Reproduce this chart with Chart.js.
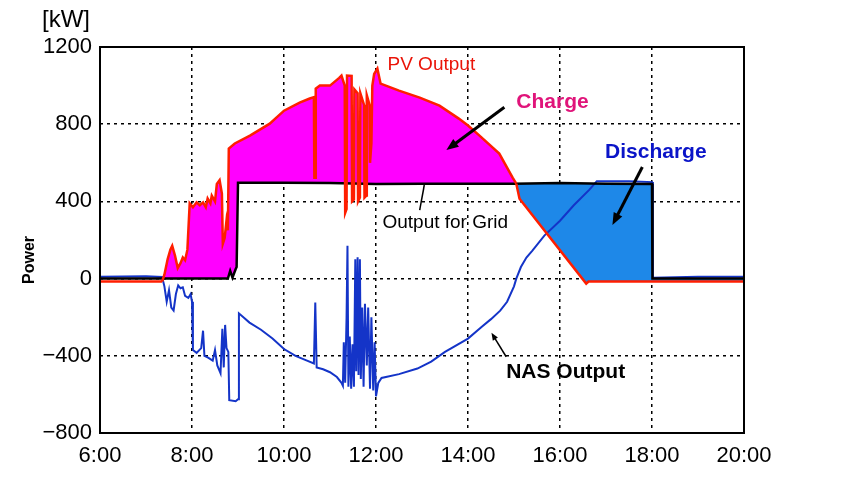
<!DOCTYPE html>
<html>
<head>
<meta charset="utf-8">
<script src="https://cdn.jsdelivr.net/npm/chart.js@4.4.1/dist/chart.umd.min.js"></script>
<style>
  html, body { margin: 0; padding: 0; background: #fff; }
</style>
</head>
<body>
<canvas id="chart" width="847" height="489"></canvas>
<script>
// Time of day in hours, power in kW
const pvTime = [6.0, 7.35, 7.4, 7.47, 7.53, 7.57, 7.63, 7.69, 7.75, 7.8, 7.85, 7.9, 7.95, 8.02, 8.1, 8.17, 8.24, 8.3, 8.34, 8.4, 8.43, 8.5, 8.54, 8.6, 8.65, 8.67, 8.71, 8.75, 8.78, 8.8, 8.93, 9.26, 9.69, 10.0, 10.34, 10.56, 10.65, 10.66, 10.68, 10.69, 10.78, 11.0, 11.2, 11.25, 11.32, 11.33, 11.36, 11.37, 11.47, 11.48, 11.52, 11.53, 11.6, 11.61, 11.65, 11.66, 11.74, 11.75, 11.79, 11.8, 11.86, 11.87, 11.9, 11.92, 11.96, 12.03, 12.1, 12.5, 12.95, 13.38, 13.8, 14.0, 14.25, 14.68, 14.97, 15.05, 15.12, 16.57, 16.62, 20.0];
const pvPower = [-15, -15, 20, 100, 150, 170, 120, 55, 80, 110, 95, 150, 390, 370, 395, 380, 395, 370, 415, 390, 430, 400, 490, 510, 440, 180, 210, 300, 250, 674, 700, 741, 803, 870, 912, 933, 940, 523, 523, 984, 1000, 1000, 1040, 1052, 1000, 340, 360, 1052, 1050, 400, 410, 980, 960, 400, 420, 960, 900, 420, 430, 950, 900, 600, 700, 1000, 1060, 1088, 1010, 974, 938, 896, 829, 793, 741, 648, 523, 492, 414, -26, -15, -15];

const gridTime = [6.0, 8.78, 8.83, 8.88, 8.95, 8.97, 9.0, 10.0, 11.0, 12.0, 13.0, 14.0, 15.0, 16.0, 17.0, 18.0, 18.01, 20.0];
const gridPower = [0, 0, 40, 5, 50, 60, 497, 497, 495, 490, 492, 492, 492, 495, 492, 490, 0, 0];

const nasTime = [6.0, 7.0, 7.35, 7.4, 7.45, 7.5, 7.55, 7.6, 7.65, 7.7, 7.75, 7.8, 7.85, 7.92, 7.97, 8.0, 8.02, 8.1, 8.2, 8.24, 8.27, 8.35, 8.45, 8.5, 8.55, 8.62, 8.66, 8.69, 8.72, 8.75, 8.79, 8.81, 8.95, 9.0, 9.02, 9.25, 9.5, 9.75, 10.0, 10.25, 10.5, 10.65, 10.68, 10.71, 10.85, 11.0, 11.15, 11.25, 11.28, 11.3, 11.33, 11.36, 11.38, 11.4, 11.43, 11.46, 11.49, 11.52, 11.55, 11.57, 11.6, 11.62, 11.65, 11.67, 11.7, 11.73, 11.76, 11.8, 11.83, 11.87, 11.9, 11.94, 11.97, 12.0, 12.05, 12.12, 12.5, 12.9, 13.2, 13.5, 14.0, 14.3, 14.5, 14.7, 14.85, 15.0, 15.05, 15.15, 15.27, 15.4, 15.66, 16.0, 16.3, 16.64, 16.8, 17.0, 17.5, 18.0, 18.02, 19.0, 20.0];
const nasPower = [10, 12, 8, -40, -120, -60, -150, -165, -80, -35, -50, -45, -90, -100, -80, -120, -370, -385, -360, -270, -400, -410, -425, -370, -450, -490, -260, -460, -240, -360, -380, -630, -635, -625, -180, -228, -265, -310, -365, -400, -425, -440, -124, -460, -470, -485, -510, -540, -555, -330, -540, -200, 170, -560, -300, -570, -340, -560, 100, -480, 110, -500, 100, -520, -150, -560, -130, -450, -150, -570, -200, -580, -330, -610, -540, -515, -495, -466, -430, -380, -311, -250, -210, -166, -120, -40, 0, 60, 109, 145, 223, 300, 380, 461, 505, 505, 505, 500, 5, 10, 10];

const xTicks = ['6:00', '8:00', '10:00', '12:00', '14:00', '16:00', '18:00', '20:00'];

const FONT = '"Liberation Sans", Arial, Helvetica, sans-serif';

const toPoints = (xs, ys) => xs.map((x, i) => ({ x: x, y: ys[i] }));

// text labels and arrows, placed in data units
const notes = [
  { text: 'PV Output', x: 12.25, y: 1081, font: '19px ' + FONT, color: '#ea1408' },
  { text: 'Charge', x: 15.05, y: 884, font: 'bold 21px ' + FONT, color: '#e0147a' },
  { text: 'Discharge', x: 16.98, y: 624, font: 'bold 21px ' + FONT, color: '#0a14c8' },
  { text: 'Output for Grid', x: 12.14, y: 262, font: '19px ' + FONT, color: '#000' },
  { text: 'NAS Output', x: 14.83, y: -514, font: 'bold 21px ' + FONT, color: '#000' }
];
const arrows = [
  { from: [14.79, 888], to: [13.53, 666], width: 3, head: 13 },
  { from: [17.79, 578], to: [17.14, 278], width: 3, head: 13 },
  { from: [12.95, 355], to: [13.05, 485], width: 1.5, head: 0 },
  { from: [14.83, -405], to: [14.51, -281], width: 1.5, head: 8 }
];

function drawArrow(ctx, x1, y1, x2, y2, w, head) {
  ctx.save();
  ctx.strokeStyle = '#000';
  ctx.fillStyle = '#000';
  ctx.lineWidth = w;
  const a = Math.atan2(y2 - y1, x2 - x1);
  const ex = head ? x2 - Math.cos(a) * head * 0.6 : x2;
  const ey = head ? y2 - Math.sin(a) * head * 0.6 : y2;
  ctx.beginPath();
  ctx.moveTo(x1, y1);
  ctx.lineTo(ex, ey);
  ctx.stroke();
  if (head) {
    ctx.beginPath();
    ctx.moveTo(x2, y2);
    ctx.lineTo(x2 - head * Math.cos(a - 0.38), y2 - head * Math.sin(a - 0.38));
    ctx.lineTo(x2 - head * Math.cos(a + 0.38), y2 - head * Math.sin(a + 0.38));
    ctx.closePath();
    ctx.fill();
  }
  ctx.restore();
}

const decorPlugin = {
  id: 'decor',
  afterDraw(chart) {
    const ctx = chart.ctx;
    const area = chart.chartArea;
    const xs = chart.scales.x;
    const ys = chart.scales.y;

    // frame
    ctx.save();
    ctx.strokeStyle = '#000';
    ctx.lineWidth = 2;
    ctx.strokeRect(area.left, area.top, area.right - area.left, area.bottom - area.top);

    // unit + axis title
    ctx.fillStyle = '#000';
    ctx.textBaseline = 'alphabetic';
    ctx.textAlign = 'left';
    ctx.font = '24px ' + FONT;
    ctx.fillText('[kW]', area.left - 58, area.top - 20);
    ctx.save();
    ctx.translate(area.left - 70, (area.top + area.bottom) / 2 + 20);
    ctx.rotate(-Math.PI / 2);
    ctx.textAlign = 'center';
    ctx.textBaseline = 'middle';
    ctx.font = 'bold 16px ' + FONT;
    ctx.fillText('Power', 0, 0);
    ctx.restore();

    notes.forEach(n => {
      ctx.font = n.font;
      ctx.fillStyle = n.color;
      ctx.fillText(n.text, xs.getPixelForValue(n.x), ys.getPixelForValue(n.y));
    });
    ctx.restore();

    arrows.forEach(a => {
      drawArrow(ctx,
        xs.getPixelForValue(a.from[0]), ys.getPixelForValue(a.from[1]),
        xs.getPixelForValue(a.to[0]), ys.getPixelForValue(a.to[1]),
        a.width, a.head);
    });
  }
};

const areaColor = c => {
  const x = c.p0.parsed.x;
  if (x < 7.35 || x >= 18) return 'rgba(0,0,0,0)';
  return x < 15.05 ? '#ff00ff' : '#1e88e8';
};

const edgeTransparent = (lo, hi) => c =>
  (c.tick && (c.tick.value === lo || c.tick.value === hi)) ? 'rgba(0,0,0,0)' : '#000';

new Chart(document.getElementById('chart').getContext('2d'), {
  type: 'line',
  data: {
    datasets: [
      {
        label: 'PV Output',
        data: toPoints(pvTime, pvPower),
        borderColor: '#ff1e00',
        backgroundColor: 'rgba(0,0,0,0)',
        borderWidth: 2.5,
        pointRadius: 0,
        fill: { target: 1 },
        segment: { backgroundColor: areaColor }
      },
      {
        label: 'Output for Grid',
        data: toPoints(gridTime, gridPower),
        borderColor: '#000',
        borderWidth: 2.5,
        pointRadius: 0,
        fill: false
      },
      {
        label: 'NAS Output',
        data: toPoints(nasTime, nasPower),
        borderColor: '#1434c8',
        borderWidth: 2,
        pointRadius: 0,
        fill: false
      }
    ]
  },
  options: {
    responsive: false,
    animation: false,
    devicePixelRatio: 1,
    layout: { padding: { top: 47, right: 103, left: 0, bottom: 0 } },
    plugins: {
      legend: { display: false },
      tooltip: { enabled: false },
      filler: { drawTime: 'beforeDatasetsDraw' }
    },
    scales: {
      x: {
        type: 'linear',
        min: 6,
        max: 20,
        afterFit: s => { s.height = 56; },
        ticks: {
          stepSize: 2,
          maxRotation: 0,
          padding: 10,
          color: '#000',
          font: { family: FONT, size: 22 },
          callback: (v, i) => xTicks[i]
        },
        grid: { color: edgeTransparent(6, 20), lineWidth: 1.5, drawTicks: false },
        border: { display: false, dash: [3, 4] }
      },
      y: {
        min: -800,
        max: 1200,
        afterFit: s => { s.width = 100; },
        ticks: {
          stepSize: 400,
          padding: 8,
          color: '#000',
          font: { family: FONT, size: 22 },
          callback: v => (v < 0 ? '\u2212' + (-v) : String(v))
        },
        grid: { color: edgeTransparent(-800, 1200), lineWidth: 1.5, drawTicks: false },
        border: { display: false, dash: [3, 4] }
      }
    }
  },
  plugins: [decorPlugin]
});
</script>
</body>
</html>
